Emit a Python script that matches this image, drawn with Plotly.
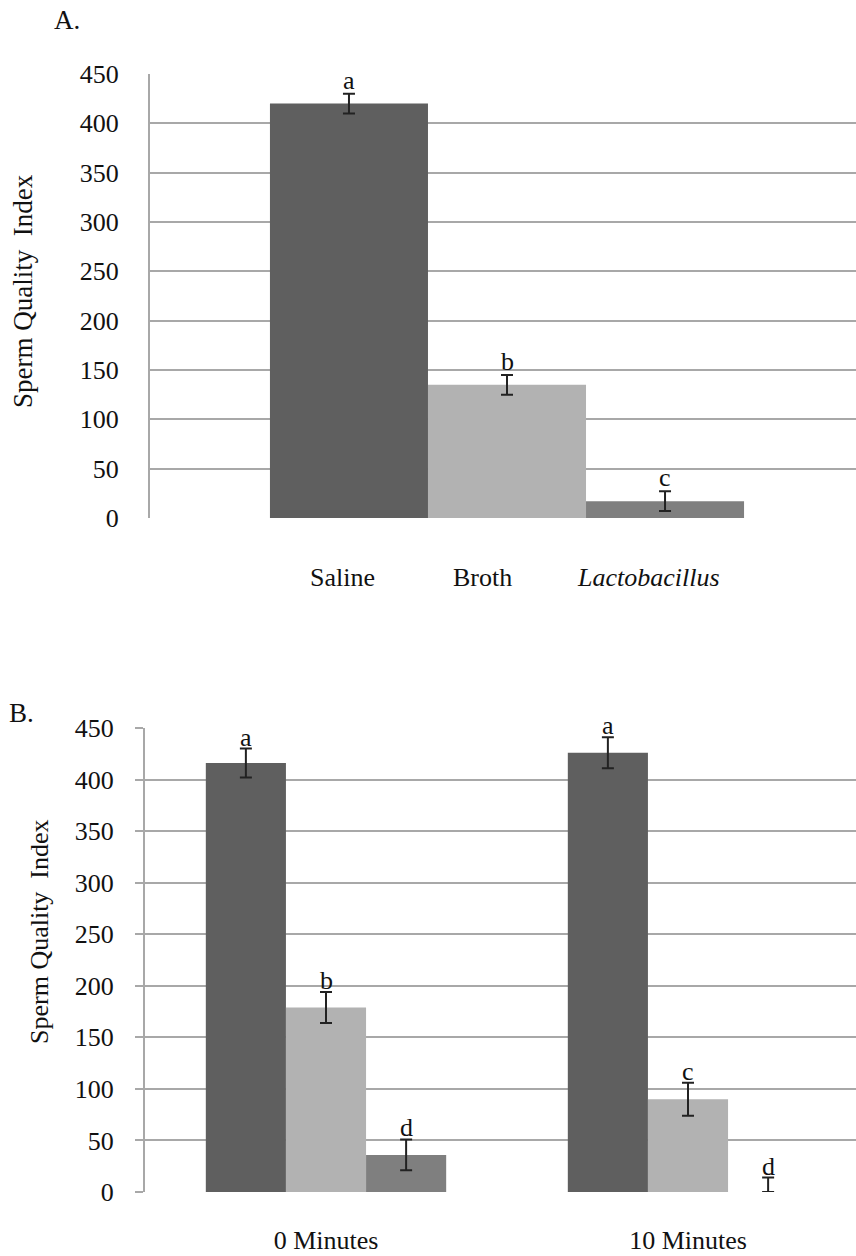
import plotly.graph_objects as go

# ---- data ----
treatments = ["Saline", "Broth", "Lactobacillus"]
treatment_labels = ["Saline", "Broth", "<i>Lactobacillus</i>"]
colors = ["#5f5f5f", "#b2b2b2", "#7f7f7f"]

# Panel A: sperm quality index per treatment
a_values = [420, 135, 17]
a_errors = [10, 10, 10]
a_letters = ["a", "b", "c"]

# Panel B: sperm quality index after 0 and 10 minutes
b_times = ["0 Minutes", "10 Minutes"]
b_values = {
    "Saline": [416, 426],
    "Broth": [179, 90],
    "Lactobacillus": [36, 0],
}
b_errors = {
    "Saline": [14, 15],
    "Broth": [15, 16],
    "Lactobacillus": [15, 14],
}
b_letters = {
    "Saline": ["a", "a"],
    "Broth": ["b", "c"],
    "Lactobacillus": ["d", "d"],
}

y_ticks = list(range(0, 451, 50))

# ---- layout constants ----
W, H = 856, 1256
FONT = "Liberation Serif, Times New Roman, serif"
GRID = "#a8a8a8"
BARGAP = 0.336
group_w = 1 - BARGAP
n = len(treatments)


def offset(i):
    return (i - (n - 1) / 2) * group_w / n


fig = go.Figure()

# Panel A bars
for i, t in enumerate(treatments):
    fig.add_trace(go.Bar(
        x=[0], y=[a_values[i]], name=t,
        marker=dict(color=colors[i], line=dict(width=0)),
        error_y=dict(type="data", array=[a_errors[i]],
                     arrayminus=[min(a_errors[i], a_values[i])],
                     color="#222222", thickness=2, width=6),
        xaxis="x", yaxis="y", showlegend=False,
    ))

# Panel B bars
for i, t in enumerate(treatments):
    vals = b_values[t]
    errs = b_errors[t]
    fig.add_trace(go.Bar(
        x=list(range(len(b_times))), y=vals, name=t,
        marker=dict(color=colors[i], line=dict(width=0)),
        error_y=dict(type="data", array=errs,
                     arrayminus=[min(e, v) for e, v in zip(errs, vals)],
                     color="#222222", thickness=2, width=6),
        xaxis="x2", yaxis="y2", showlegend=False,
    ))

annotations = []
letter_font = dict(family=FONT, size=26, color="#111111")

# significance letters, panel A
for i in range(n):
    annotations.append(dict(
        x=offset(i), y=a_values[i] + a_errors[i], xref="x", yref="y",
        text=a_letters[i], showarrow=False, yanchor="bottom", yshift=-3,
        font=letter_font))

# significance letters, panel B
for i, t in enumerate(treatments):
    for j in range(len(b_times)):
        annotations.append(dict(
            x=j + offset(i), y=b_values[t][j] + b_errors[t][j],
            xref="x2", yref="y2", text=b_letters[t][j], showarrow=False,
            yanchor="bottom", yshift=-5, font=letter_font))

# treatment names under panel A
name_shift = [-6, -25, -17]
for i in range(n):
    annotations.append(dict(
        x=offset(i), y=(H - 578) / H, xref="x", yref="paper",
        text=treatment_labels[i], showarrow=False, xshift=name_shift[i],
        yanchor="middle",
        font=dict(family=FONT, size=26, color="#111111")))

# panel letters
annotations.append(dict(x=52 / W, y=(H - 20) / H, xref="paper", yref="paper",
                        text="A.", showarrow=False, xanchor="left",
                        yanchor="middle",
                        font=dict(family=FONT, size=27, color="#111111")))
annotations.append(dict(x=7 / W, y=(H - 713) / H, xref="paper", yref="paper",
                        text="B.", showarrow=False, xanchor="left",
                        yanchor="middle",
                        font=dict(family=FONT, size=27, color="#111111")))

# y-axis titles
annotations.append(dict(x=23 / W, y=(H - 291) / H, xref="paper", yref="paper",
                        text="Sperm Quality  Index", textangle=-90,
                        showarrow=False, xanchor="center", yanchor="middle",
                        font=dict(family=FONT, size=27, color="#111111")))
annotations.append(dict(x=40 / W, y=(H - 932) / H, xref="paper", yref="paper",
                        text="Sperm Quality  Index", textangle=-90,
                        showarrow=False, xanchor="center", yanchor="middle",
                        font=dict(family=FONT, size=26, color="#111111")))

tick_font = dict(family=FONT, size=26, color="#111111")

fig.update_layout(
    width=W, height=H,
    margin=dict(l=0, r=0, t=0, b=0),
    paper_bgcolor="white", plot_bgcolor="white",
    barmode="group", bargap=BARGAP, bargroupgap=0,
    annotations=annotations,
    xaxis=dict(domain=[150 / W, 1], range=[-0.5, -0.5 + 706 / 714],
               showticklabels=False, showgrid=False, zeroline=False,
               showline=False, ticks="", anchor="y"),
    yaxis=dict(domain=[(H - 518) / H, (H - 74) / H], range=[0, 450],
               tickvals=y_ticks, showgrid=True, gridcolor=GRID, gridwidth=2,
               zeroline=False, showline=True, linecolor=GRID, linewidth=2,
               ticks="", tickfont=tick_font, ticklabelstandoff=24,
               anchor="x", automargin=False),
    xaxis2=dict(domain=[145 / W, 1], range=[-0.5, -0.5 + 711 / 362],
                tickvals=list(range(len(b_times))), ticktext=b_times,
                tickfont=tick_font, ticks="", showgrid=False, zeroline=False,
                showline=False, ticklabelstandoff=30, anchor="y2",
                automargin=False),
    yaxis2=dict(domain=[(H - 1192) / H, (H - 728) / H], range=[0, 450],
                tickvals=y_ticks, showgrid=True, gridcolor=GRID, gridwidth=2,
                zeroline=False, showline=True, linecolor=GRID, linewidth=2,
                ticks="outside", ticklen=8, tickwidth=2, tickcolor=GRID,
                tickfont=tick_font, ticklabelstandoff=16,
                anchor="x2", automargin=False),
)

fig.write_html("out.html")
